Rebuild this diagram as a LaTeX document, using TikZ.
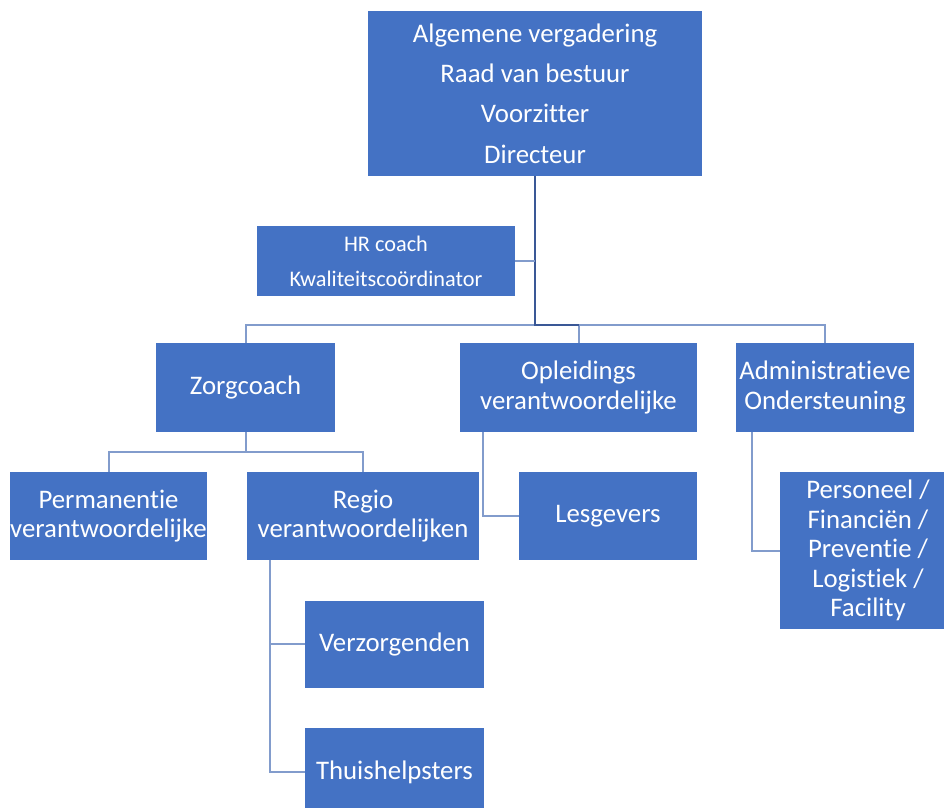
\documentclass[tikz,border=0pt]{standalone}
\usepackage{fontspec}
\setmainfont[Ligatures=NoCommon]{Carlito}
\definecolor{boxblue}{RGB}{68,114,196}
\definecolor{linelight}{RGB}{130,156,204}
\definecolor{linedark}{RGB}{58,88,150}
\begin{document}
\begin{tikzpicture}[x=1pt,y=-1pt,
  box/.style={draw=none,fill=boxblue,text=white,inner sep=0pt,align=center,font=\fontsize{26.8}{29.5}\selectfont},
  conn/.style={draw=linelight,line width=2pt},
  trunk/.style={draw=linedark,line width=2pt}]
\useasboundingbox (0,0) rectangle (944,807);
\clip (0,0) rectangle (944,807);
\node[box,minimum width=334pt,minimum height=165pt,font=\fontsize{26.8}{40.3}\selectfont] (top) at (535,93.5)
  {Algemene vergadering\\Raad van bestuur\\Voorzitter\\Directeur};
\node[box,minimum width=258pt,minimum height=70pt,font=\fontsize{22.3}{35}\selectfont] (hr) at (386,261)
  {HR coach\\Kwaliteitscoördinator};
\node[box,minimum width=179pt,minimum height=89pt] (zc) at (245.5,387.5) {Zorgcoach};
\node[box,minimum width=237pt,minimum height=89pt] (opl) at (578.5,387.5) {Opleidings\\verantwoordelijke};
\node[box,minimum width=178pt,minimum height=89pt] (adm) at (825,387.5) {Administratieve\\Ondersteuning};
\node[box,minimum width=197pt,minimum height=88pt] (perm) at (108.5,516) {Permanentie\\verantwoordelijke};
\node[box,minimum width=232pt,minimum height=88pt] (reg) at (363,516) {Regio\\verantwoordelijken};
\node[box,minimum width=178pt,minimum height=88pt] (les) at (608,516) {Lesgevers};
\node[box,minimum width=176pt,minimum height=157pt] (pers) at (868,550.5) {Personeel /\\Financiën /\\Preventie /\\Logistiek /\\Facility};
\node[box,minimum width=179pt,minimum height=87pt] (verz) at (394.5,644) {Verzorgenden};
\node[box,minimum width=179pt,minimum height=88pt] (thuis) at (394.5,772) {Thuishelpsters};
% connectors
\coordinate (bus) at (535,325);
\coordinate (zbus) at (245.5,452);
\coordinate (olv) at (483,432);
\coordinate (adv) at (752,432);
\coordinate (rgv) at (270,560);
\draw[conn] (zc.north) |- (adm.north |- bus) -- (adm.north);
\draw[conn] (opl.north |- bus) -- (opl.north);
\draw[trunk] (top.south) -- (bus) -- (opl.north |- bus);
\draw[conn] (hr.east) -- (hr.east -| bus);
\draw[conn] (zc.south) -- (zbus);
\draw[conn] (perm.north) |- (zbus) -| (reg.north);
\draw[conn] (olv) |- (les.west);
\draw[conn] (adv) |- (pers.west);
\draw[conn] (rgv) |- (verz.west);
\draw[conn] (rgv) |- (thuis.west);
\end{tikzpicture}
\end{document}
